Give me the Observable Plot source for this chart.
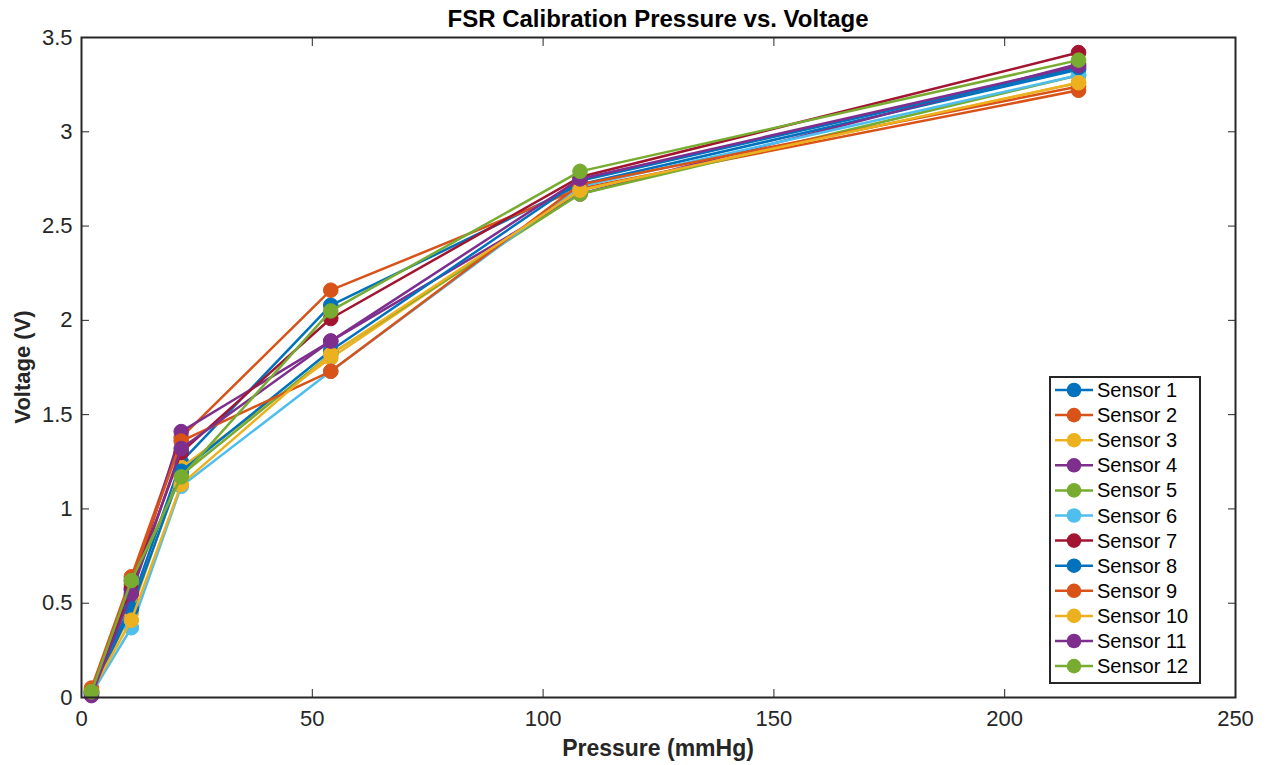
<!DOCTYPE html>
<html>
<head>
<meta charset="utf-8">
<script src="https://cdn.jsdelivr.net/npm/d3@7"></script>
<script src="https://cdn.jsdelivr.net/npm/@observablehq/plot@0.6"></script>
<style>
  html, body { margin: 0; padding: 0; background: #fff; }
  #chart { width: 1268px; height: 765px; }
  svg { font-family: "Liberation Sans", Arial, Helvetica, sans-serif; }
</style>
</head>
<body>
<div id="chart"></div>
<script>
const pressures = [2.16, 10.8, 21.6, 54, 108, 216];
const sensorNames = ["Sensor 1","Sensor 2","Sensor 3","Sensor 4","Sensor 5","Sensor 6",
                     "Sensor 7","Sensor 8","Sensor 9","Sensor 10","Sensor 11","Sensor 12"];
const sensorColors = ["#0072BD","#D95319","#EDB120","#7E2F8E","#77AC30","#4DBEEE",
                      "#A2142F","#0072BD","#D95319","#EDB120","#7E2F8E","#77AC30"];
const sensor1  = [0.03, 0.50, 1.25, 2.08, 2.72, 3.33];
const sensor2  = [0.05, 0.64, 1.38, 2.16, 2.70, 3.22];
const sensor3  = [0.04, 0.45, 1.22, 1.80, 2.69, 3.26];
const sensor4  = [0.02, 0.57, 1.41, 1.89, 2.67, 3.36];
const sensor5  = [0.03, 0.60, 1.18, 1.82, 2.67, 3.30];
const sensor6  = [0.02, 0.37, 1.12, 1.73, 2.71, 3.30];
const sensor7  = [0.03, 0.58, 1.30, 2.01, 2.76, 3.42];
const sensor8  = [0.02, 0.47, 1.20, 1.84, 2.74, 3.34];
const sensor9  = [0.04, 0.62, 1.36, 1.73, 2.72, 3.24];
const sensor10 = [0.03, 0.41, 1.13, 1.82, 2.69, 3.26];
const sensor11 = [0.01, 0.55, 1.32, 1.89, 2.75, 3.35];
const sensor12 = [0.03, 0.62, 1.17, 2.05, 2.79, 3.38];
const sensorValues = [sensor1, sensor2, sensor3, sensor4, sensor5, sensor6,
                      sensor7, sensor8, sensor9, sensor10, sensor11, sensor12];
const xTicks = [0, 50, 100, 150, 200, 250];
const yTicks = [0, 0.5, 1, 1.5, 2, 2.5, 3, 3.5];
const titleText = "FSR Calibration Pressure vs. Voltage";
const xLabel = "Pressure (mmHg)";
const yLabel = "Voltage (V)";

const series = sensorNames.map((name, i) =>
  pressures.map((p, j) => ({sensor: name, pressure: p, voltage: sensorValues[i][j]})));

const axisColor = "#262626";
const marks = [];
series.forEach((data, i) => {
  marks.push(Plot.line(data, {x: "pressure", y: "voltage", stroke: sensorColors[i], strokeWidth: 2.5}));
  marks.push(Plot.dot(data, {x: "pressure", y: "voltage", r: 7.3, fill: sensorColors[i], stroke: sensorColors[i], strokeWidth: 1}));
});

const chart = Plot.plot({
  width: 1268,
  height: 765,
  marginLeft: 81,
  marginRight: 33,
  marginTop: 37,
  marginBottom: 68,
  style: {fontFamily: '"Liberation Sans", Arial, sans-serif', color: axisColor, background: "white"},
  x: {domain: [0, 250]},
  y: {domain: [0, 3.5]},
  marks: [
    ...marks,
    Plot.axisX({ticks: xTicks, tickSize: -8, tickFormat: d => String(d), fontSize: 22, tickPadding: 21,
                label: null, stroke: axisColor, color: axisColor}),
    Plot.axisX({anchor: "top", ticks: xTicks, tickSize: -8, tickFormat: () => "", label: null, stroke: axisColor}),
    Plot.axisY({ticks: yTicks, tickSize: -8, tickFormat: d => String(d), fontSize: 22, tickPadding: 17,
                label: null, stroke: axisColor, color: axisColor}),
    Plot.axisY({anchor: "right", ticks: yTicks, tickSize: -8, tickFormat: () => "", label: null, stroke: axisColor}),
    Plot.frame({stroke: axisColor, strokeWidth: 2})
  ]
});
document.getElementById("chart").appendChild(chart);

// Title and axis labels
const svg = d3.select(chart);
const plotLeft = 81, plotRight = 1268 - 33, plotTop = 37, plotBottom = 765 - 68;
const cx = (plotLeft + plotRight) / 2;
svg.append("text").attr("x", cx).attr("y", 27).attr("text-anchor", "middle")
  .attr("font-size", 24).attr("font-weight", "bold").attr("fill", "#000").text(titleText);
svg.append("text").attr("x", cx).attr("y", 756).attr("text-anchor", "middle")
  .attr("font-size", 23).attr("font-weight", "bold").attr("fill", axisColor).text(xLabel);
svg.append("text").attr("transform", `translate(30,${(plotTop + plotBottom) / 2}) rotate(-90)`)
  .attr("text-anchor", "middle").attr("font-size", 22).attr("font-weight", "bold")
  .attr("fill", axisColor).text(yLabel);

// Legend
const lg = svg.append("g").attr("transform", "translate(1050,377)");
const rowH = 25.1;
lg.append("rect").attr("x", 0).attr("y", 0).attr("width", 150).attr("height", 306)
  .attr("fill", "white").attr("stroke", axisColor).attr("stroke-width", 2);
sensorNames.forEach((name, i) => {
  const y = 13 + i * rowH;
  lg.append("line").attr("x1", 5).attr("x2", 43).attr("y1", y).attr("y2", y)
    .attr("stroke", sensorColors[i]).attr("stroke-width", 2.5);
  lg.append("circle").attr("cx", 24).attr("cy", y).attr("r", 7.3).attr("fill", sensorColors[i]);
  lg.append("text").attr("x", 47).attr("y", y).attr("dy", "0.35em").attr("text-anchor", "start")
    .attr("font-size", 20).attr("fill", "#000").text(name);
});
</script>
</body>
</html>
